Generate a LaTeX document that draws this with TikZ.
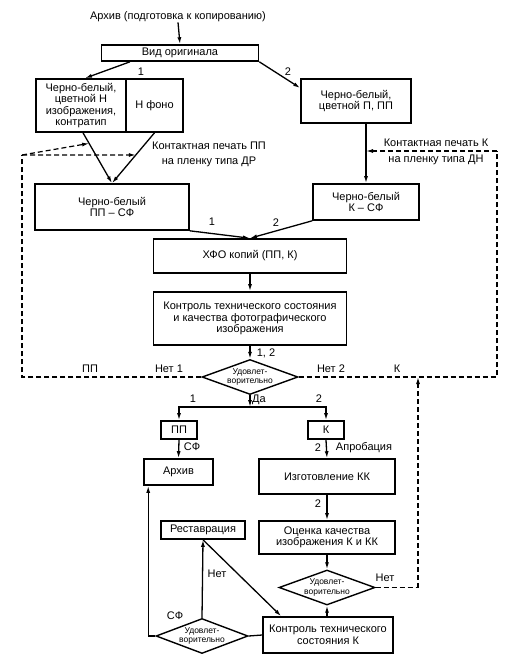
\documentclass[tikz,border=0pt]{standalone}
\usepackage{fontspec}
\setmainfont{Liberation Sans}
\usetikzlibrary{shapes.geometric,arrows.meta,calc}
\begin{document}
\begin{tikzpicture}[x=1pt,y=-1pt,
 box/.style={draw,line width=1.6pt,align=center,inner sep=0pt,font=\fontsize{11}{11.5}\selectfont},
 dia/.style={draw,shape=diamond,line width=1.4pt,aspect=2.7,inner sep=0pt,align=center,font=\fontsize{8.5}{9.5}\selectfont},
 arr/.style={line width=1.3pt,-{Latex[length=7pt,width=4pt]}},
 ln/.style={line width=1.3pt},
 dsh/.style={line width=1.2pt,dash pattern=on 5pt off 3pt},
 dar/.style={dsh,-{Latex[length=7pt,width=4pt]}},
 lbl/.style={font=\fontsize{11}{11.5}\selectfont,inner sep=0pt,align=center}]
\useasboundingbox (0,0) rectangle (526,664);

% nodes
\node[lbl] (top) at (178,17) {Архив (подготовка к копированию)};
\node[box,minimum width=157pt,minimum height=16pt] (vid) at (180,53) {Вид оригинала};
\node[box,minimum width=90pt,minimum height=53pt] (leftA) at (81,105.5) {Черно-белый,\\цветной Н\\изображения,\\контратип};
\node[box,minimum width=57pt,minimum height=53pt] (leftB) at (154.5,105.5) {Н фоно};
\node[box,minimum width=110pt,minimum height=44pt] (rb) at (356,101) {Черно-белый,\\цветной П, ПП};
\node[box,minimum width=154pt,minimum height=46pt] (ppsf) at (112,207) {Черно-белый\\ПП -- СФ};
\node[box,minimum width=106pt,minimum height=36pt] (ksf) at (366,202) {Черно-белый\\К -- СФ};
\node[box,minimum width=193pt,minimum height=34pt] (hfo) at (250,256) {ХФО копий (ПП, К)};
\node[box,minimum width=193pt,minimum height=53pt] (ktr) at (250,318.5) {Контроль технического состояния\\и качества фотографического\\изображения};
\node[dia,minimum width=96pt,minimum height=35pt] (d1) at (250,377) {Удовлет-\\ворительно};
\node[box,minimum width=36pt,minimum height=18pt] (pp) at (179,430) {ПП};
\node[box,minimum width=36pt,minimum height=18pt] (k) at (326,430) {К};
\node[box,minimum width=69pt,minimum height=26pt] (arch) at (178.5,472) {Архив};
\node[box,minimum width=136pt,minimum height=35pt] (izg) at (327,476.5) {Изготовление КК};
\node[box,minimum width=136pt,minimum height=33pt] (oc) at (327,537.5) {Оценка качества\\изображения К и КК};
\node[dia,minimum width=96pt,minimum height=35pt] (d2) at (327,587.5) {Удовлет-\\ворительно};
\node[box,minimum width=130pt,minimum height=36pt] (kk) at (328,635) {Контроль технического\\состояния К};
\node[box,minimum width=84pt,minimum height=18pt] (rest) at (203,530) {Реставрация};
\node[dia,minimum width=92pt,minimum height=35pt] (d3) at (202,636) {Удовлет-\\ворительно};

% helper coordinates
\coordinate (la) at ([xshift=2pt]leftA.south);
\coordinate (L1) at (22,377);
\coordinate (L2) at (22,155);
\coordinate (R1) at (497,377);
\coordinate (R2) at (497,151);
\coordinate (q1) at ($(la)!0.21!(ppsf.north)$);
\coordinate (q2) at ($(leftB.south)!0.44!(ppsf.north)$);
\coordinate (J) at (250,407);
\coordinate (A) at ([xshift=5pt]arch.south west);
\coordinate (N2) at (418,587.5);
\coordinate (N3) at (418,377);

% connectors
\draw[arr] (top.south) -- (vid.north);
\draw[arr] ([xshift=-50pt]vid.south) -- ([xshift=4pt]leftA.north);
\draw[arr] (vid.south east) -- ([yshift=13pt]rb.west);
\draw[arr] (rb.south -| ksf.north) -- (ksf.north);
\draw[arr] (la) -- (ppsf.north);
\draw[arr] (leftB.south) -- (ppsf.north);
\draw[arr] (ppsf.south east) -- (hfo.north);
\draw[arr] (ksf.south west) -- (hfo.north);
\draw[arr] (hfo.south) -- (ktr.north);
\draw[arr] (ktr.south) -- (d1.north);
\draw[dsh] (d1.west) -- (L1) -- (L2);
\draw[dar] (L2) -- (q1);
\draw[dar] (L2) -- (q2);
\draw[dsh] (d1.east) -- (R1) -- (R2);
\draw[dar] (R2) -- (R2 -| ksf.north);
\draw[arr] (d1.south) -- (J);
\draw[arr] (J) -| (pp.north);
\draw[arr] (J) -| (k.north);
\draw[arr] (pp.south) -- (arch.north);
\draw[arr] (k.south) -- (izg.north);
\draw[arr] (izg.south) -- (oc.north);
\draw[arr] (oc.south) -- (d2.north);
\draw[dsh] (d2.east) -- (N2);
\draw[dar] (N2) -- (N3);
\draw[arr] (kk.north -| d2.south) -- (d2.south);
\draw[ln] (d3.east) -- (kk.west);
\draw[arr] (d3.west) -- (d3.west -| A) -- (A);
\draw[arr] (d3.north) -- (rest.south);
\draw[arr] (rest.south) -- ([xshift=19pt]kk.north west);

% labels
\node[lbl] at (141,72) {1};
\node[lbl] at (288,72) {2};
\node[lbl] at (209,146) {Контактная печать ПП};
\node[lbl] at (209,162) {на пленку типа ДР};
\node[lbl] at (436,143) {Контактная печать К};
\node[lbl] at (436,160) {на пленку типа ДН};
\node[lbl] at (212,222) {1};
\node[lbl] at (276,223) {2};
\node[lbl] at (266,353) {1, 2};
\node[lbl] at (90,369) {ПП};
\node[lbl] at (169,369) {Нет 1};
\node[lbl] at (331,369) {Нет 2};
\node[lbl] at (397,369) {К};
\node[lbl] at (259,400) {Да};
\node[lbl] at (193,399) {1};
\node[lbl] at (319,399) {2};
\node[lbl] at (192,447) {СФ};
\node[lbl] at (318,448) {2};
\node[lbl] at (364,448) {Апробация};
\node[lbl] at (318,504) {2};
\node[lbl] at (385,578) {Нет};
\node[lbl] at (217,574) {Нет};
\node[lbl] at (175,616) {СФ};
\end{tikzpicture}
\end{document}
